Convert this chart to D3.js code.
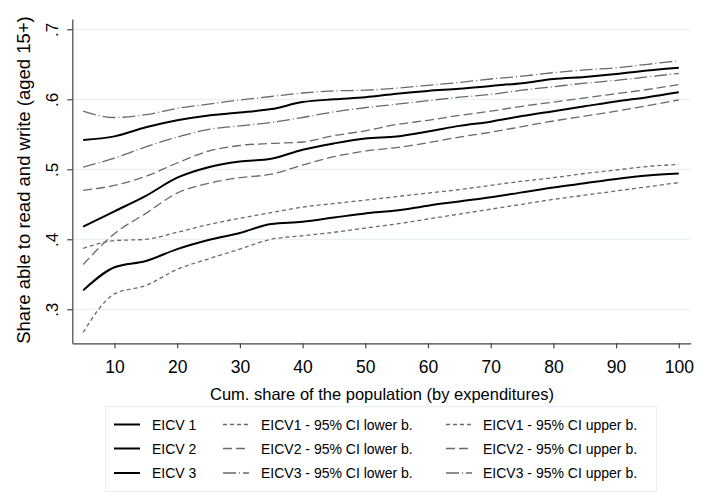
<!DOCTYPE html>
<html>
<head>
<meta charset="utf-8">
<script src="https://cdn.jsdelivr.net/npm/d3@7"></script>
<style>
    body { margin: 0; background: #ffffff; }
    text { font-family: "Liberation Sans", Arial, sans-serif; }
</style>
</head>
<body>
<div class="chart"></div>
<script>
(function () {
    "use strict";

    // cumulative share of the population (x)
    var xPct = [5, 10, 15, 20, 25, 30, 35, 40, 45, 50, 55, 60, 65, 70, 75, 80, 85, 90, 95, 100];

    // EICV 1 estimate and 95% CI bounds
    var eicv1   = [.327, .360, .369, .386, .399, .409, .422, .425, .431, .437, .441, .448, .454, .460, .467, .474, .480, .486, .491, .494];
    var eicv1Lo = [.267, .322, .334, .357, .372, .386, .400, .405, .410, .416, .422, .429, .436, .443, .450, .457, .463, .469, .475, .481];
    var eicv1Hi = [.387, .398, .400, .410, .421, .430, .438, .446, .451, .456, .461, .466, .471, .477, .483, .488, .494, .499, .504, .507];

    // EICV 2
    var eicv2   = [.418, .440, .462, .488, .503, .511, .515, .528, .537, .544, .547, .554, .562, .568, .576, .583, .590, .597, .603, .610];
    var eicv2Lo = [.364, .408, .437, .466, .480, .488, .493, .506, .518, .526, .531, .538, .546, .553, .561, .569, .576, .583, .591, .599];
    var eicv2Hi = [.470, .477, .490, .509, .526, .534, .537, .539, .548, .555, .564, .570, .577, .583, .590, .596, .602, .608, .614, .621];

    // EICV 3
    var eicv3   = [.542, .547, .560, .570, .577, .581, .586, .596, .600, .603, .608, .612, .615, .619, .623, .629, .632, .636, .641, .645];
    var eicv3Lo = [.503, .516, .532, .546, .557, .562, .567, .574, .582, .588, .593, .598, .603, .607, .613, .618, .623, .627, .632, .637];
    var eicv3Hi = [.583, .574, .578, .587, .593, .599, .604, .609, .612, .613, .616, .620, .624, .629, .633, .638, .642, .645, .650, .655];

    // tick labels
    var xTicks = [10, 20, 30, 40, 50, 60, 70, 80, 90, 100];
    var yTicks = [.3, .4, .5, .6, .7];
    var yTickLabels = [".3", ".4", ".5", ".6", ".7"];

    var legendNames = [
        "EICV 1", "EICV1 - 95% CI lower b.", "EICV1 - 95% CI upper b.",
        "EICV 2", "EICV2 - 95% CI lower b.", "EICV2 - 95% CI upper b.",
        "EICV 3", "EICV3 - 95% CI lower b.", "EICV3 - 95% CI upper b."
    ];

    // line styles: solid black for estimates, grey patterned for bounds
    var solid = { stroke: "#000000", width: 2, dash: null };
    var dash1 = { stroke: "#6a6a6a", width: 1.3, dash: "4,3" };
    var dash2 = { stroke: "#6a6a6a", width: 1.3, dash: "9,4" };
    var dash3 = { stroke: "#6a6a6a", width: 1.3, dash: "13,3,1,3" };

    var series = [
        { values: eicv1, style: solid }, { values: eicv1Lo, style: dash1 }, { values: eicv1Hi, style: dash1 },
        { values: eicv2, style: solid }, { values: eicv2Lo, style: dash2 }, { values: eicv2Hi, style: dash2 },
        { values: eicv3, style: solid }, { values: eicv3Lo, style: dash3 }, { values: eicv3Hi, style: dash3 }
    ];

    var w = 704;
    var h = 496;

    var svg = d3.select(".chart")
                .append("svg")
                .attr("width", w)
                .attr("height", h);

    // plot region
    var x = d3.scaleLinear().domain([3.27, 101.9]).range([72.3, 690.7]);
    var y = d3.scaleLinear().domain([0.2514, 0.7147]).range([343.3, 19]);

    // gridlines
    svg.append("g")
        .selectAll("line")
        .data(yTicks)
        .enter()
        .append("line")
        .attr("x1", x.range()[0])
        .attr("x2", x.range()[1])
        .attr("y1", function (d) { return y(d); })
        .attr("y2", function (d) { return y(d); })
        .attr("stroke", "#eaf1f3")
        .attr("stroke-width", 1.2);

    // y axis
    var yAxis = svg.append("g")
        .attr("transform", "translate(" + x.range()[0] + ",0)")
        .call(d3.axisLeft(y)
            .tickValues(yTicks)
            .tickSize(5)
            .tickSizeOuter(0)
            .tickFormat(function (d, i) { return yTickLabels[i]; }));

    yAxis.selectAll("text")
        .attr("x", 0)
        .attr("dy", 0)
        .attr("text-anchor", "middle")
        .attr("font-size", 17)
        .attr("fill", "#000")
        .attr("transform", "translate(-14,0) rotate(-90)");

    // x axis
    var xAxis = svg.append("g")
        .attr("transform", "translate(0," + y.range()[0] + ")")
        .call(d3.axisBottom(x)
            .tickValues(xTicks)
            .tickSize(5)
            .tickSizeOuter(0));

    xAxis.selectAll("text")
        .attr("y", 30)
        .attr("dy", 0)
        .attr("font-size", 17.5)
        .attr("fill", "#000");

    svg.selectAll(".domain, .tick line")
        .attr("stroke", "#444444")
        .attr("stroke-width", 1.2);

    // axis titles
    svg.append("text")
        .attr("transform", "translate(30,180) rotate(-90)")
        .attr("text-anchor", "middle")
        .attr("font-size", 18.5)
        .text("Share able to read and write (aged 15+)");

    svg.append("text")
        .attr("x", 382)
        .attr("y", 400)
        .attr("text-anchor", "middle")
        .attr("font-size", 16.5)
        .text("Cum. share of the population (by expenditures)");

    // curves
    var line = d3.line()
        .x(function (d, i) { return x(xPct[i]); })
        .y(function (d) { return y(d); })
        .curve(d3.curveMonotoneX);

    // draw bounds first so the estimates sit on top
    var order = [1, 2, 4, 5, 7, 8, 0, 3, 6];
    svg.append("g")
        .selectAll("path")
        .data(order.map(function (k) { return series[k]; }))
        .enter()
        .append("path")
        .attr("d", function (s) { return line(s.values); })
        .attr("fill", "none")
        .attr("stroke", function (s) { return s.style.stroke; })
        .attr("stroke-width", function (s) { return s.style.width; })
        .attr("stroke-dasharray", function (s) { return s.style.dash; });

    // legend
    var legend = svg.append("g");

    legend.append("rect")
        .attr("x", 105.5)
        .attr("y", 406.5)
        .attr("width", 551)
        .attr("height", 85)
        .attr("fill", "#ffffff")
        .attr("stroke", "#e6eef0")
        .attr("stroke-width", 1);

    var colSample = [114, 223, 446];
    var colText = [152, 261, 483];
    var rowY = [424.5, 448.5, 473];

    var items = legend.selectAll("g.item")
        .data(legendNames)
        .enter()
        .append("g")
        .attr("transform", function (d, i) {
            return "translate(0," + rowY[Math.floor(i / 3)] + ")";
        });

    items.append("line")
        .attr("x1", function (d, i) { return colSample[i % 3]; })
        .attr("x2", function (d, i) { return colSample[i % 3] + 26; })
        .attr("y1", 0)
        .attr("y2", 0)
        .attr("stroke", function (d, i) { return series[i].style.stroke; })
        .attr("stroke-width", function (d, i) { return series[i].style.width; })
        .attr("stroke-dasharray", function (d, i) { return series[i].style.dash; });

    items.append("text")
        .attr("x", function (d, i) { return colText[i % 3]; })
        .attr("y", 5)
        .attr("font-size", 14)
        .text(function (d) { return d; });
})();
</script>
</body>
</html>
